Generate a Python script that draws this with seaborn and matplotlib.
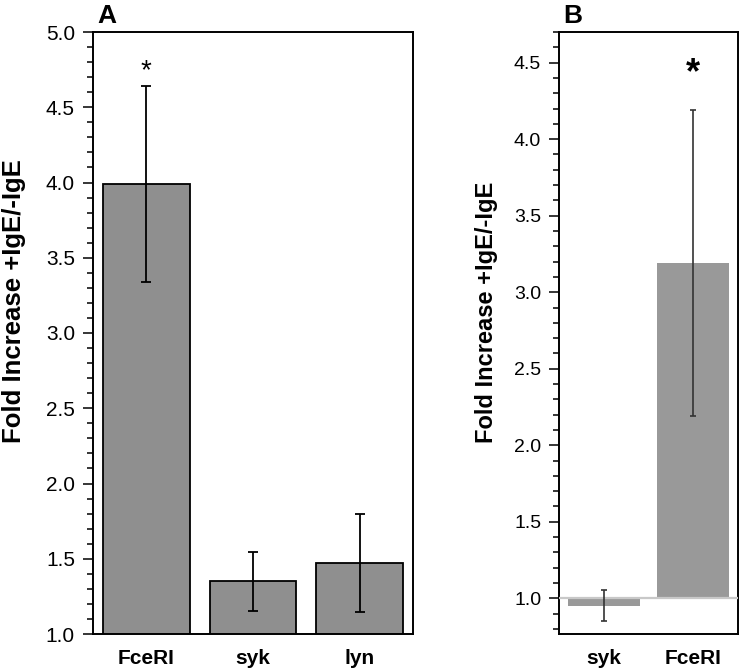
import numpy as np
import pandas as pd
import matplotlib
matplotlib.use("Agg")
import matplotlib.pyplot as plt
from matplotlib.ticker import MultipleLocator, FormatStrFormatter
import seaborn as sns

# Panel A data
genes_a = ["FceRI", "syk", "lyn"]
fold_a = [3.99, 1.35, 1.47]
err_a = [0.65, 0.195, 0.325]

# Panel B data (bars drawn from baseline 1.0)
genes_b = ["syk", "FceRI"]
fold_b = [0.952, 3.19]
err_b = [0.10, 1.0]

ylabel = "Fold Increase +IgE/-IgE"

sns.set_style("white")
plt.rcParams["font.family"] = ["Liberation Sans", "DejaVu Sans"]
plt.rcParams["text.color"] = "black"
plt.rcParams["axes.labelcolor"] = "black"
plt.rcParams["xtick.color"] = "black"
plt.rcParams["ytick.color"] = "black"

W, H = 741, 672
fig = plt.figure(figsize=(W / 100, H / 100), dpi=100)


def box(l, t, r, b):
    return [l / W, 1 - b / H, (r - l) / W, (b - t) / H]


def style_axis(ax, tick_size):
    for sp in ax.spines.values():
        sp.set_visible(True)
        sp.set_color("black")
        sp.set_linewidth(1.4)
    ax.yaxis.set_minor_locator(MultipleLocator(0.1))
    ax.yaxis.set_major_locator(MultipleLocator(0.5))
    ax.yaxis.set_major_formatter(FormatStrFormatter("%.1f"))
    ax.tick_params(axis="y", which="major", direction="out", length=7, width=1.1,
                   labelsize=tick_size, left=True, pad=6)
    ax.tick_params(axis="y", which="minor", direction="out", length=4, width=1.1, left=True)
    ax.tick_params(axis="x", length=0, labelsize=15, pad=11)
    for lab in ax.get_xticklabels():
        lab.set_fontweight("bold")


def place_ylabel(ax, size, x_px, y_px, l, r, t, b):
    ax.set_ylabel(ylabel, fontsize=size, fontweight="bold")
    ax.yaxis.label.set_verticalalignment("baseline")
    ax.yaxis.set_label_coords((x_px - l) / (r - l), (b - y_px) / (b - t))


# ---- Panel A ----
la, ra, ta, ba = 93, 413, 32, 634
ax_a = fig.add_axes(box(la, ta, ra, ba))
df_a = pd.DataFrame({"gene": genes_a, "fold": fold_a})
sns.barplot(data=df_a, x="gene", y="fold", color="#8f8f8f", saturation=1,
            edgecolor="black", linewidth=1.3, width=0.81, errorbar=None, ax=ax_a)
ax_a.errorbar(np.arange(len(genes_a)), fold_a, yerr=err_a, fmt="none",
              ecolor="black", elinewidth=1.3, capsize=3.3, capthick=1.3, zorder=5)
ax_a.set_xlim(-0.5, 2.5)
ax_a.set_ylim(1.0, 5.0)
ax_a.set_xlabel("")
style_axis(ax_a, 15)
place_ylabel(ax_a, 18.5, 21, 301, la, ra, ta, ba)
ax_a.text(0, 4.74, "*", ha="center", va="center", fontsize=20)
fig.text(97 / W, 1 - 23 / H, "A", fontsize=19, fontweight="bold", va="baseline")

# ---- Panel B ----
lb, rb, tb, bb = 559.3, 737.7, 32, 634
ax_b = fig.add_axes(box(lb, tb, rb, bb))
df_b = pd.DataFrame({"gene": genes_b, "delta": np.array(fold_b) - 1.0})
sns.barplot(data=df_b, x="gene", y="delta", color="#999999", saturation=1,
            linewidth=0, width=0.80, errorbar=None, bottom=1.0, ax=ax_b)
ax_b.axhline(1.0, color="#c8c8c8", lw=1.6, zorder=4)
ax_b.errorbar(np.arange(len(genes_b)), fold_b, yerr=err_b, fmt="none",
              ecolor="#333333", elinewidth=1.2, capsize=2.2, capthick=1.2, zorder=5)
ax_b.set_xlim(-0.5, 1.5)
ax_b.set_ylim(0.767, 4.7)
ax_b.set_xlabel("")
style_axis(ax_b, 14)
place_ylabel(ax_b, 17, 493, 312, lb, rb, tb, bb)
ax_b.text(1, 4.43, "*", ha="center", va="center", fontsize=26, fontweight="bold")
fig.text(563 / W, 1 - 23 / H, "B", fontsize=19, fontweight="bold", va="baseline")

fig.savefig("out.png", dpi=100)
